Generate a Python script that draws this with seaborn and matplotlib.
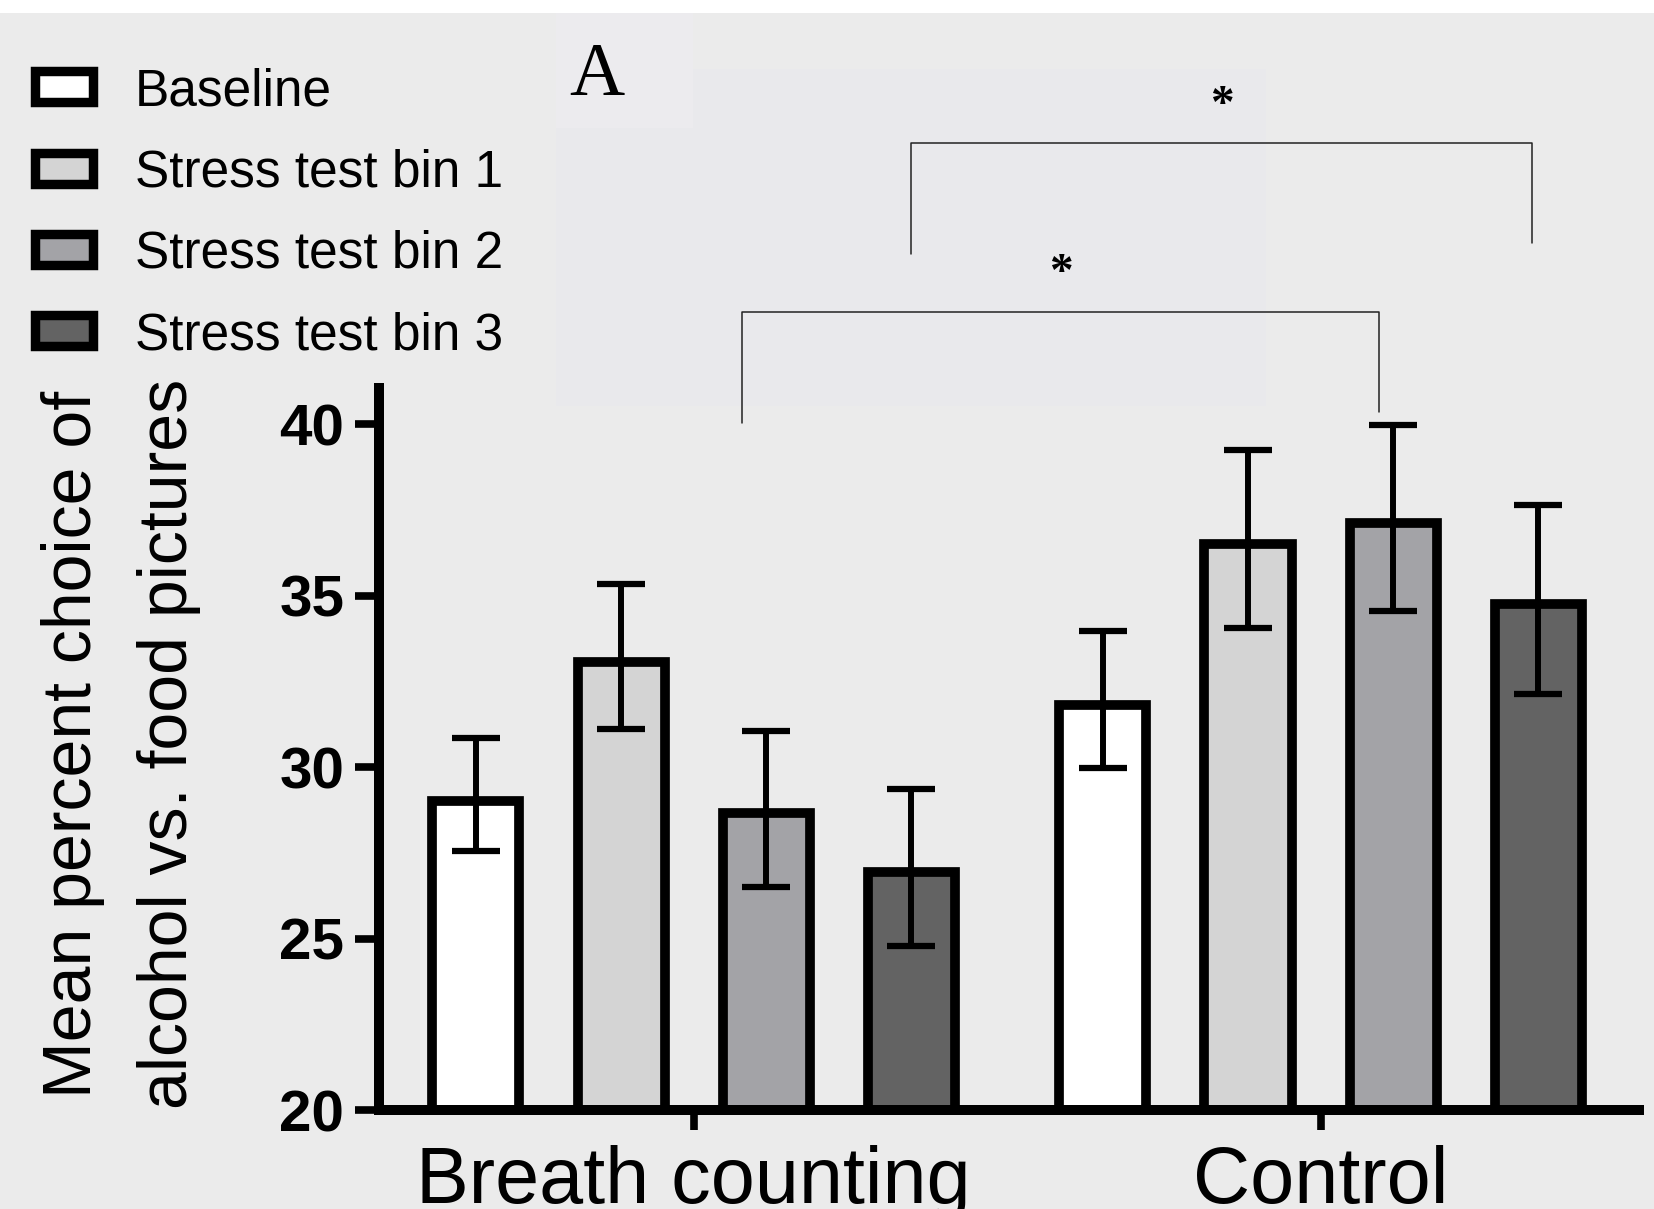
import numpy as np
import pandas as pd
import matplotlib
matplotlib.use("Agg")
import matplotlib.pyplot as plt
import seaborn as sns
from matplotlib.patches import Patch, Rectangle
from matplotlib.container import BarContainer

# ---------------- data ----------------
groups = ["Breath counting", "Control"]
conditions = ["Baseline", "Stress test bin 1", "Stress test bin 2", "Stress test bin 3"]
breath_mean = [29.0, 33.06, 28.67, 26.95]
control_mean = [31.82, 36.50, 37.11, 34.75]
breath_err_top = [30.86, 35.35, 31.06, 29.37]
breath_err_bottom = [27.55, 31.11, 26.49, 24.77]
control_err_top = [33.97, 39.24, 39.96, 37.64]
control_err_bottom = [29.97, 34.04, 34.56, 32.13]
bar_colors = ["#ffffff", "#d4d4d4", "#a3a3a7", "#636363"]
y_ticks = [20, 25, 30, 35, 40]
y_label = "Mean percent choice of\nalcohol vs. food pictures"
panel_label = "A"
# significance comparisons: condition compared between the two groups
sig_conditions = ["Stress test bin 3", "Stress test bin 2"]
sig_text = ["*", "*"]
sig_bar_y = [48.18, 43.26]           # bracket horizontal level
sig_leg_bottom = [(44.96, 45.27), (40.04, 40.36)]
sig_star_y = [49.27, 44.36]

# ---------------- style ----------------
sns.set_style("ticks")
plt.rcParams["font.family"] = ["Liberation Sans", "DejaVu Sans"]
plt.rcParams["text.color"] = "black"
plt.rcParams["axes.labelcolor"] = "black"
plt.rcParams["xtick.color"] = "black"
plt.rcParams["ytick.color"] = "black"
plt.rcParams["axes.edgecolor"] = "black"

W, H = 1654, 1209
fig = plt.figure(figsize=(W / 100, H / 100), dpi=100)
fig.patch.set_facecolor("#ebebeb")


def frect(x0, y0, x1, y1, color):
    r = Rectangle((x0 / W, 1 - y1 / H), (x1 - x0) / W, (y1 - y0) / H,
                  transform=fig.transFigure, facecolor=color,
                  edgecolor="none", zorder=-10)
    fig.add_artist(r)


frect(0, 0, W, 13, "#ffffff")
frect(556, 128, 1266, 406, "#e9e9ec")
frect(693, 69, 1266, 128, "#e9e9ec")
frect(556, 13, 693, 128, "#ecebee")

ax = fig.add_axes([379 / W, 1 - 1110 / H, (1639 - 379) / W, (1110 - 388) / H])
ax.set_facecolor("none")

df = pd.DataFrame({
    "group": np.repeat(groups, len(conditions)),
    "condition": conditions * len(groups),
    "value": breath_mean + control_mean,
})

sns.barplot(data=df, x="group", y="value", hue="condition", order=groups,
            hue_order=conditions, palette=bar_colors, saturation=1,
            edgecolor="black", linewidth=7, errorbar=None, width=0.9265,
            gap=0.40, legend=False, ax=ax, zorder=2)

tops = [breath_err_top, control_err_top]
bottoms = [breath_err_bottom, control_err_bottom]
centers = {}
bar_containers = [c for c in ax.containers if isinstance(c, BarContainer)]
for j, cont in enumerate(bar_containers):
    for bar in cont.patches:
        cx = bar.get_x() + bar.get_width() / 2
        h = bar.get_height()
        gi = int(round(cx))
        centers[(gi, j)] = cx
        ax.errorbar(cx, h, yerr=[[h - bottoms[gi][j]], [tops[gi][j] - h]],
                    fmt="none", ecolor="black", elinewidth=4.3, capsize=17,
                    capthick=4.5, zorder=5)

ax.set_xlim(-0.502, 1.508)
ax.set_ylim(20, 41.05)
ax.set_yticks(y_ticks)
ax.set_yticklabels([str(t) for t in y_ticks], fontsize=42, fontweight="bold")
ax.set_xticks(range(len(groups)))
ax.set_xticklabels(groups, fontsize=57)
ax.set_xlabel("")
ax.set_ylabel(y_label, fontsize=49, linespacing=1.65)
ax.yaxis.set_label_coords(-0.141, 0.507)
sns.despine(ax=ax)
for s in ["left", "bottom"]:
    ax.spines[s].set_linewidth(7.2)
    ax.spines[s].set_color("black")
ax.tick_params(axis="y", length=17, width=5.5, pad=8, colors="black")
ax.tick_params(axis="x", length=14.4, width=5.5, pad=10.8, colors="black")

# significance brackets
sig_dx = [(0.0, -0.01), (-0.0387, -0.022)]
for k, cond in enumerate(sig_conditions):
    j = conditions.index(cond)
    x0 = centers[(0, j)] + sig_dx[k][0]
    x1 = centers[(1, j)] + sig_dx[k][1]
    yb = sig_bar_y[k]
    ax.plot([x0, x0, x1, x1], [sig_leg_bottom[k][0], yb, yb, sig_leg_bottom[k][1]],
            color="#222222", lw=1.1, clip_on=False, zorder=6)
    ax.text((x0 + x1) / 2, sig_star_y[k], sig_text[k], ha="center", va="center",
            fontsize=34, family=["Liberation Serif", "DejaVu Serif"],
            fontweight="bold", clip_on=False)

# panel label
fig.text(569 / W, 1 - 95 / H, panel_label, fontsize=55,
         family=["Liberation Serif", "DejaVu Serif"], ha="left", va="baseline")

# legend
handles = [Patch(facecolor=c, edgecolor="black", linewidth=6.8) for c in bar_colors]
fig.legend(handles, conditions, loc="upper left",
           bbox_to_anchor=(35.4 / W, 1 - 67 / H), frameon=False,
           prop={"size": 37}, handlelength=1.13,
           handleheight=0.55, handletextpad=0.8, labelspacing=0.63,
           borderpad=0, borderaxespad=0)

fig.savefig("out.png", dpi=100, facecolor=fig.get_facecolor())
